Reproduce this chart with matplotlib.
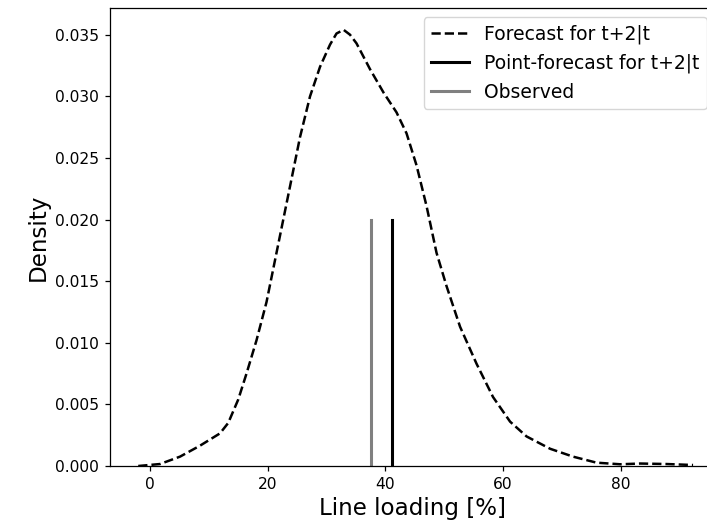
import matplotlib
matplotlib.use("Agg")
import matplotlib.pyplot as plt

# Density curve of forecast
load_x = [-2.0, 1.7, 5.1, 8.5, 11.9, 13.3, 15.0, 16.4, 18.1, 19.8, 21.5, 23.8, 25.5,
          27.2, 28.9, 30.6, 31.7, 32.9, 34.0, 35.1, 37.4, 39.7, 41.9, 43.6, 45.3, 47.0,
          48.7, 50.4, 52.7, 55.5, 58.3, 61.2, 64.0, 68.0, 71.9, 75.9, 79.9, 83.3,
          87.8, 92.3]
density = [0.0, 0.00016, 0.00076, 0.00165, 0.00265, 0.0035, 0.0054, 0.0075, 0.0102,
           0.0133, 0.0173, 0.0227, 0.0267, 0.0300, 0.0324, 0.0342, 0.0351, 0.0354,
           0.0350, 0.0343, 0.0322, 0.0303, 0.0287, 0.0270, 0.0244, 0.0211, 0.0173, 0.0146,
           0.0113, 0.0083, 0.0056, 0.0036, 0.0024, 0.0014, 0.00076, 0.00027,
           0.00014, 0.0002, 0.00016, 0.00008]

point_forecast = 41.2
observed = 37.5
vline_height = 0.02

fig = plt.figure(figsize=(7.07, 5.21), dpi=100)
ax = fig.add_axes([110/707, 55/521, (716-110)/707, 458/521])

ax.plot(load_x, density, linestyle='--', color='black', lw=1.8, label='Forecast for t+2|t')
ax.plot([point_forecast, point_forecast], [0, vline_height], color='black', lw=2.2,
        label='Point-forecast for t+2|t')
ax.plot([observed, observed], [0, vline_height], color='grey', lw=2.2, label='Observed')

ax.set_xlim(-6.8, 96.2)
ax.set_ylim(bottom=0)
ax.set_xlabel('Line loading [%]', fontsize=16.6)
ax.set_ylabel('Density', fontsize=16.6)
ax.tick_params(labelsize=11.2, length=3.9, pad=3.9, width=0.9)
for s in ax.spines.values():
    s.set_linewidth(0.9)
ax.legend(loc='upper right', fontsize=13.5)

fig.savefig('out.png', dpi=100)
